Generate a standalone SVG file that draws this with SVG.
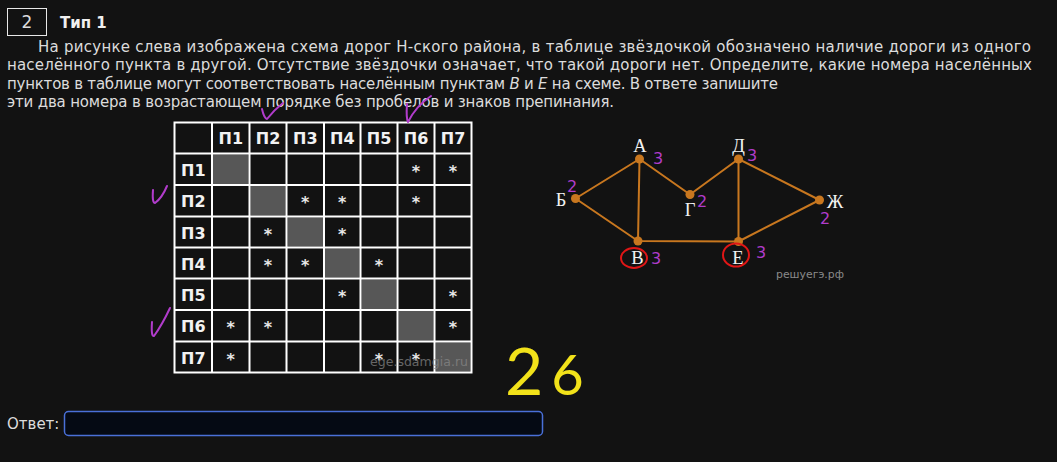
<svg xmlns="http://www.w3.org/2000/svg" width="1057" height="462" viewBox="0 0 1057 462">
<style>
.t{font-family:"DejaVu Sans","Noto Sans",sans-serif;font-size:15px;fill:#dcdcdc}
.hd{font-family:"DejaVu Sans",sans-serif;font-size:16px;font-weight:bold;fill:#f2f2f2}
.st{font-family:"DejaVu Sans",sans-serif;font-size:16px;font-weight:bold;fill:#e8e8e8;text-anchor:middle}
.gl{stroke:#fff;stroke-width:2;fill:none}
.gc{fill:#575757}
.ed{stroke:#c8771f;stroke-width:2;fill:none}
.nd{fill:#c8771f}
.lb{font-family:"Liberation Serif","DejaVu Serif",serif;font-size:18.5px;fill:#f2f2f2;text-anchor:middle}
.mg{font-family:"DejaVu Sans",sans-serif;font-size:16px;fill:#b13ccb}
.ck{stroke:#b13ccb;stroke-width:2;fill:none;stroke-linecap:round;stroke-linejoin:round}
.rc{stroke:#e01616;stroke-width:2;fill:none}
</style>
<rect width="1057" height="462" fill="#121212"/>

<g id="header">
<rect x="7.5" y="8.5" width="39" height="27" fill="none" stroke="#e8e8e8" stroke-width="1"/>
<text x="27" y="28" font-family="DejaVu Sans,sans-serif" font-size="17" fill="#dcdcdc" text-anchor="middle">2</text>
<text x="60" y="27.5" font-family="DejaVu Sans,sans-serif" font-size="15" font-weight="bold" fill="#f0f0f0">Тип 1</text>
</g>

<g id="question">
<text class="t" x="38" y="52" textLength="993" lengthAdjust="spacing">На рисунке слева изображена схема дорог Н-ского района, в таблице звёздочкой обозначено наличие дороги из одного</text>
<text class="t" x="7" y="70" textLength="1025" lengthAdjust="spacing">населённого пункта в другой. Отсутствие звёздочки означает, что такой дороги нет. Определите, какие номера населённых</text>
<text class="t" x="7" y="88.5" textLength="771" lengthAdjust="spacing">пунктов в таблице могут соответствовать населённым пунктам <tspan font-style="italic">В</tspan> и <tspan font-style="italic">Е</tspan> на схеме. В ответе запишите</text>
<text class="t" x="7" y="107" textLength="607" lengthAdjust="spacing">эти два номера в возрастающем порядке без пробелов и знаков препинания.</text>
</g>

<g id="table">
<rect class="gc" x="213" y="154.5" width="35.5" height="29.5"/>
<rect class="gc" x="250.5" y="186" width="35" height="29.5"/>
<rect class="gc" x="287.5" y="217.5" width="35.5" height="29"/>
<rect class="gc" x="325" y="248.5" width="34.5" height="29"/>
<rect class="gc" x="361.5" y="279.5" width="35" height="29.5"/>
<rect class="gc" x="398.5" y="311" width="35" height="29.5"/>
<rect class="gc" x="435.5" y="342.5" width="35" height="29"/>
<rect class="gl" x="174.5" y="122.5" width="297" height="250"/>
<path class="gl" d="M212 122.5V372.5M249.5 122.5V372.5M286.5 122.5V372.5M324 122.5V372.5M360.5 122.5V372.5M397.5 122.5V372.5M434.5 122.5V372.5M174.5 153.5H471.5M174.5 185H471.5M174.5 216.5H471.5M174.5 247.5H471.5M174.5 278.5H471.5M174.5 310H471.5M174.5 341.5H471.5"/>
<g class="hd" text-anchor="middle">
<text x="230.75" y="144">П1</text><text x="268" y="144">П2</text><text x="305.25" y="144">П3</text><text x="342.25" y="144">П4</text><text x="379" y="144">П5</text><text x="416" y="144">П6</text><text x="453" y="144">П7</text>
</g>
<g class="hd">
<text x="181" y="175.5">П1</text><text x="181" y="207">П2</text><text x="181" y="238.5">П3</text><text x="181" y="269.5">П4</text><text x="181" y="300.5">П5</text><text x="181" y="332">П6</text><text x="181" y="363.5">П7</text>
</g>
<g>
<text class="st" x="416" y="176.5">*</text><text class="st" x="453" y="176.5">*</text>
<text class="st" x="305.25" y="208">*</text><text class="st" x="342.25" y="208">*</text><text class="st" x="416" y="208">*</text>
<text class="st" x="268" y="239.5">*</text><text class="st" x="342.25" y="239.5">*</text>
<text class="st" x="268" y="270.5">*</text><text class="st" x="305.25" y="270.5">*</text><text class="st" x="379" y="270.5">*</text>
<text class="st" x="342.25" y="301.5">*</text><text class="st" x="453" y="301.5">*</text>
<text class="st" x="230.75" y="333">*</text><text class="st" x="268" y="333">*</text><text class="st" x="453" y="333">*</text>
<text class="st" x="230.75" y="364.5">*</text><text class="st" x="379" y="364.5">*</text><text class="st" x="416" y="364.5">*</text>
</g>
<text x="370" y="366" font-family="DejaVu Sans,sans-serif" font-size="12.5" fill="#8a8a8a" opacity="0.7" textLength="98" lengthAdjust="spacingAndGlyphs">ege.sdamgia.ru</text>
</g>

<g id="connectors">
<path class="ed" d="M639.5 159L575.5 198.5M639.5 159L638 241M639.5 159L690 194.5M575.5 198.5L638 241M638 241L738.5 241.5M690 194.5L738.5 159M738.5 159L738.5 241.5M738.5 159L819.5 200M738.5 241.5L819.5 200"/>
</g>
<g id="node-A"><circle class="nd" cx="639.5" cy="159" r="4.5"/><text class="lb" x="640" y="151.5">А</text></g>
<g id="node-B"><circle class="nd" cx="575.5" cy="198.5" r="4.5"/><text class="lb" x="561" y="205.5">Б</text></g>
<g id="node-G"><circle class="nd" cx="690" cy="194.5" r="4.5"/><text class="lb" x="690" y="215.5">Г</text></g>
<g id="node-V"><circle class="nd" cx="638" cy="241" r="4.5"/><text class="lb" x="637.5" y="263.5">В</text></g>
<g id="node-D"><circle class="nd" cx="738.5" cy="159" r="4.5"/><text class="lb" x="738.5" y="151.5">Д</text></g>
<g id="node-Zh"><circle class="nd" cx="819.5" cy="200" r="4.5"/><text class="lb" x="835" y="207.5">Ж</text></g>
<g id="node-E"><circle class="nd" cx="738.5" cy="241.5" r="4.5"/><text class="lb" x="738" y="263.5">Е</text></g>
<text x="776" y="278" font-family="DejaVu Sans,sans-serif" font-size="11" fill="#8a8a8a" textLength="68" lengthAdjust="spacingAndGlyphs">решуегэ.рф</text>

<g id="annotations">
<text class="mg" x="653" y="164">3</text>
<text class="mg" x="567" y="192">2</text>
<text class="mg" x="697" y="207">2</text>
<text class="mg" x="651" y="264">3</text>
<text class="mg" x="747" y="161">3</text>
<text class="mg" x="820" y="224">2</text>
<text class="mg" x="756" y="258">3</text>
<ellipse class="rc" cx="634" cy="258" rx="13" ry="10"/>
<ellipse class="rc" cx="736" cy="255" rx="13" ry="11.5"/>
<path class="ck" d="M262 109Q264 118 267 119Q274 110 283 103"/>
<path class="ck" d="M407 104Q406 118 408 122Q416 106 431 96"/>
<path class="ck" d="M153 190Q152 203 155 203Q162 198 167 186"/>
<path class="ck" d="M152 322Q151 337 154 336Q162 325 170 308"/>
<text x="505" y="395" font-family="Lato,Roboto,sans-serif" font-weight="400" font-size="66" fill="#f2e21a">2<tspan font-size="56" dx="8">6</tspan></text>
</g>

<g id="answer">
<text class="t" x="7" y="429">Ответ:</text>
<rect x="64.5" y="411.5" width="478" height="24" rx="4" fill="#050a14" stroke="#4a70d8" stroke-width="1.5"/>
</g>
</svg>
